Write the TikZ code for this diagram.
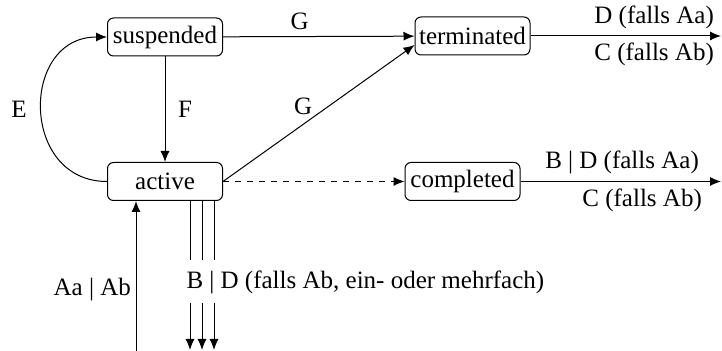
\documentclass[tikz,border=0pt]{standalone}
\usepackage{fontspec}
\setmainfont{Liberation Serif}
\newfontfamily\statefont{Liberation Serif}
\usetikzlibrary{arrows.meta,positioning}

\tikzset{
  state/.style={draw, rounded corners=3pt, minimum width=57.5pt,
    minimum height=19pt, inner sep=1pt},
  >={Latex[length=5.5pt,width=4.5pt]}
}

\begin{document}
\begin{tikzpicture}[x=0.5pt, y=-0.5pt, line width=0.5pt,
  font=\statefont\fontsize{12.5}{15}\selectfont]
  \useasboundingbox (0,0) rectangle (722,351);

  % states
  \node[state] (susp) at (165,37) {suspended};
  \node[state] (act) at (165,181.5) {active};
  \node[state] (term) at (472.5,36) {terminated};
  \node[state] (compl) at (462.5,181.5) {completed};

  % free ends
  \coordinate (termout) at (721,36);
  \coordinate (complout) at (721,181.5);
  \coordinate (start) at (136,351);

  \draw[->] (susp) -- node[pos=0.4, above] {G} (term);
  \draw[->] (susp) -- node[right=3pt] {F} (act);
  \draw[->] (act.west) to[out=180, in=180, distance=43.5pt]
    node[left=4pt] {E} (susp.west);
  \draw[->] (act.east) -- node[pos=0.42, above left=1pt and -8pt] {G}
    ([yshift=-4.5pt]term.west);
  \draw[->, dashed] (act) -- (compl);

  \draw[->] (term) -- (termout)
    node[pos=1, above left] {D (falls Aa)}
    node[pos=1, below left] {C (falls Ab)};
  \draw[->] (compl) -- (complout)
    node[pos=1, above left, xshift=-7.5pt] {B | D (falls Aa)}
    node[pos=1, below left, xshift=-6pt] {C (falls Ab)};

  \draw[->] (start) -- node[pos=0.41, left=-1pt] {Aa | Ab} (start |- act.south);

  % multiple outgoing signals
  \foreach \x [count=\i] in {190,202,214} {
    \coordinate (out\i) at (\x,350);
    \draw[->] (out\i |- act.south) -- (out\i);
  }
  \node[fill=white, anchor=west, inner xsep=1pt, inner ysep=5pt]
    (multi) at (184,282) {B | D (falls Ab, ein- oder mehrfach)};
\end{tikzpicture}
\end{document}
